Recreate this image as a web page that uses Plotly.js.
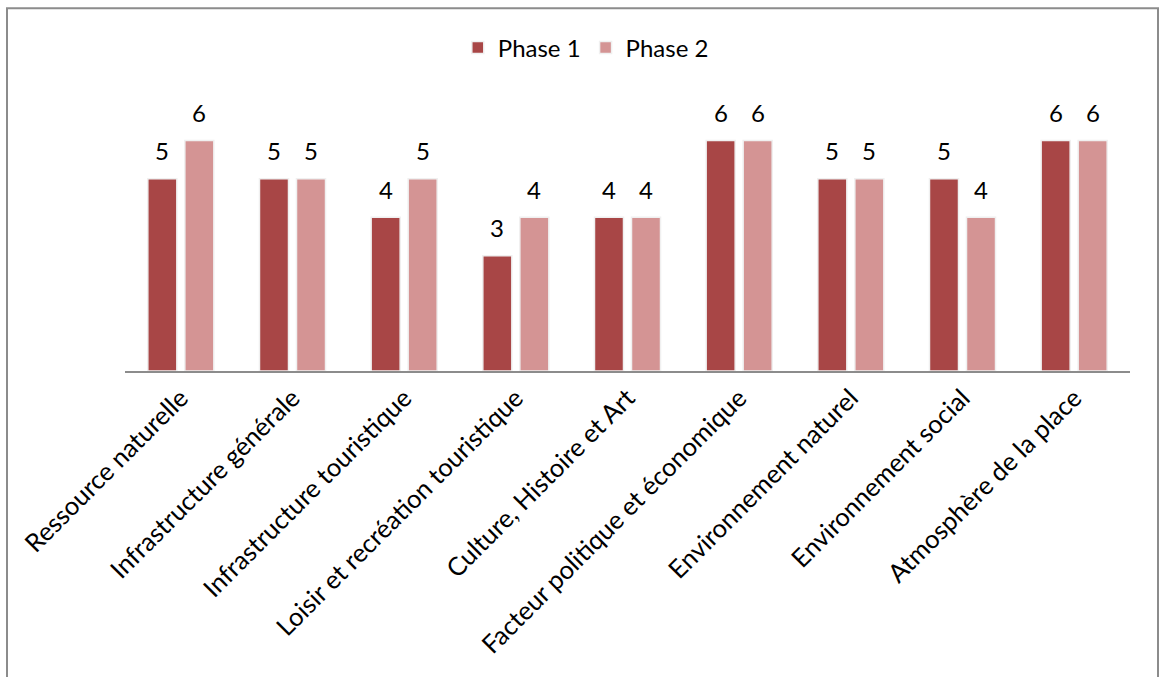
<!DOCTYPE html>
<html>
<head>
<meta charset="utf-8">
<script src="https://cdn.plot.ly/plotly-3.0.1.min.js"></script>
<style>html,body{margin:0;padding:0;background:#fff;}#chart{width:1160px;height:677px;}</style>
</head>
<body>
<div id="chart"></div>
<script>
const categories = ["Ressource naturelle", "Infrastructure générale", "Infrastructure touristique", "Loisir et recréation touristique", "Culture, Histoire et Art", "Facteur politique et économique", "Environnement naturel", "Environnement social", "Atmosphère de la place"];
const phase1 = [5, 5, 4, 3, 4, 6, 5, 5, 6];
const phase2 = [6, 5, 5, 4, 4, 6, 5, 4, 6];
const seriesNames = ["Phase 1", "Phase 2"];
const colors = ["#A84646", "#D49494"];

const FONT = "Lato, 'Open Sans', sans-serif";
const series = [phase1, phase2];
const traces = series.map((vals, i) => ({
  type: "bar",
  name: seriesNames[i],
  x: categories,
  y: vals,
  marker: {color: colors[i], line: {color: "#f0f0f0", width: 1.5}},
  hoverinfo: "x+y+name"
}));

const annotations = [];
series.forEach((vals, i) => {
  vals.forEach((v, j) => {
    annotations.push({
      x: categories[j], y: v, xref: "x", yref: "y",
      text: String(v), showarrow: false,
      xshift: i === 0 ? -18.5 : 18.5, yshift: 28,
      yanchor: "middle", xanchor: "center",
      font: {family: FONT, size: 24, color: "#000"}
    });
  });
});

const layout = {
  width: 1160, height: 677,
  margin: {l: 125, r: 30, t: 101.5, b: 306},
  paper_bgcolor: "#fff", plot_bgcolor: "#fff",
  barmode: "group", bargap: 0.337, bargroupgap: 0.216,
  showlegend: true,
  legend: {orientation: "h", x: 0.505, xref: "container", xanchor: "center", y: 1 - 48 / 677, yref: "container", yanchor: "middle",
           font: {family: FONT, size: 24, color: "#000"}, traceorder: "normal", itemwidth: 30},
  xaxis: {
    tickangle: -45, tickfont: {family: FONT, size: 25.5, color: "#000"},
    showline: true, linecolor: "#8c8c8c", linewidth: 2,
    ticks: "", showgrid: false, zeroline: false, fixedrange: true
  },
  yaxis: {range: [0, 7], visible: false, showgrid: false, zeroline: false, fixedrange: true},
  annotations: annotations,
  shapes: [],
  font: {family: FONT}
};

// Outer border drawn in pixel coordinates converted to paper units
const plotW = 1160 - 125 - 30, plotH = 677 - 101.5 - 306;
layout.shapes.push({
  type: "rect", xref: "paper", yref: "paper",
  x0: (7 - 125) / plotW, x1: (1158 - 125) / plotW,
  y0: (677 - 306 - 700) / plotH, y1: (677 - 306 - 7.5) / plotH,
  line: {color: "#8c8c8c", width: 2}
});

Plotly.newPlot("chart", traces, layout, {displayModeBar: false, staticPlot: true});
</script>
</body>
</html>
